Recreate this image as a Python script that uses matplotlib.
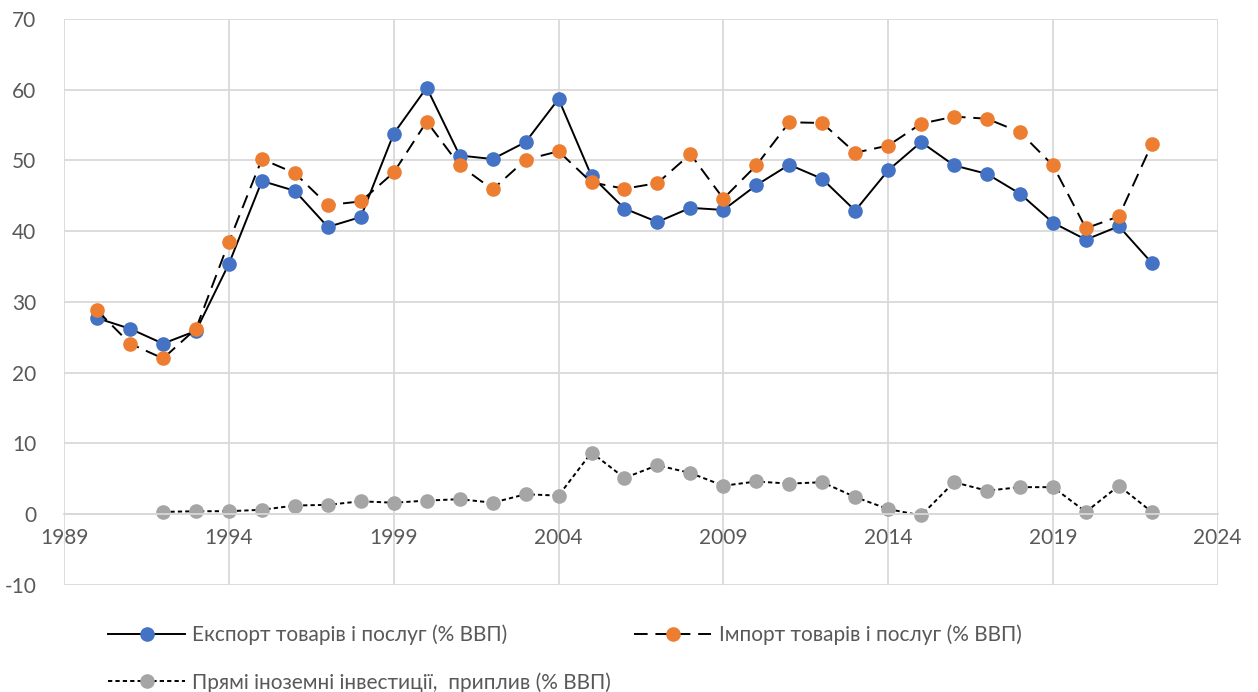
import matplotlib
matplotlib.use('Agg')
import matplotlib.pyplot as plt
from matplotlib.ticker import FixedLocator, MultipleLocator

plt.rcParams['font.family'] = ['Lato', 'DejaVu Sans']
plt.rcParams['axes.unicode_minus'] = False

# Data
years = list(range(1990, 2023))
export = [27.7, 26.2, 24.1, 25.9, 35.4, 47.1, 45.7, 40.6, 42.0, 53.8,
          60.3, 50.7, 50.2, 52.6, 58.7, 47.8, 43.2, 41.3, 43.3, 43.0,
          46.5, 49.4, 47.4, 42.9, 48.6, 52.6, 49.3, 48.1, 45.3, 41.2,
          38.8, 40.7, 35.5]
imports = [28.8, 24.1, 22.0, 26.2, 38.5, 50.2, 48.2, 43.7, 44.2, 48.3,
           55.5, 49.3, 45.9, 50.1, 51.3, 46.9, 46.0, 46.8, 50.9, 44.6,
           49.3, 55.4, 55.3, 51.1, 52.1, 55.2, 56.2, 55.9, 54.0, 49.3,
           40.4, 42.1, 52.3]
fdi_years = list(range(1992, 2023))
fdi = [0.3, 0.4, 0.4, 0.6, 1.2, 1.3, 1.8, 1.6, 1.9, 2.1,
       1.6, 2.8, 2.6, 8.7, 5.1, 6.9, 5.8, 4.0, 4.6, 4.3,
       4.5, 2.4, 0.7, -0.2, 4.5, 3.3, 3.8, 3.8, 0.3, 4.0, 0.3]
x_ticks = [1989, 1994, 1999, 2004, 2009, 2014, 2019, 2024]

labels = ['Експорт товарів і послуг (% ВВП)',
          'Імпорт товарів і послуг (% ВВП)',
          'Прямі іноземні інвестиції,  приплив (% ВВП)']

text_color = '#595959'
grid_color = '#d9d9d9'

fig = plt.figure(figsize=(12.58, 6.92), dpi=100)
ax = fig.add_axes([0.051, 0.155, 0.917, 0.8175])

ms = 9.5
l1, = ax.plot(years, export, color='black', lw=1.4, marker='o', ms=ms,
              markerfacecolor='#4472C4', markeredgecolor='#4472C4', label=labels[0])
l2, = ax.plot(years, imports, color='black', lw=1.4, dashes=(7, 4), marker='o', ms=ms,
              markerfacecolor='#ED7D31', markeredgecolor='#ED7D31', label=labels[1])
l3, = ax.plot(fdi_years, fdi, color='black', lw=1.4, dashes=(2.2, 1.6), marker='o', ms=ms,
              markerfacecolor='#A5A5A5', markeredgecolor='#A5A5A5', label=labels[2])

ax.set_xlim(1989, 2024)
ax.set_ylim(-10, 70)
ax.xaxis.set_major_locator(FixedLocator(x_ticks))
ax.yaxis.set_major_locator(MultipleLocator(10))
ax.grid(True, color=grid_color, lw=1.3)
ax.set_axisbelow(True)

for s in ['top', 'right', 'left']:
    ax.spines[s].set_visible(False)
ax.spines['bottom'].set_position(('data', 0))
ax.spines['bottom'].set_color(grid_color)
ax.spines['bottom'].set_linewidth(1.3)
ax.tick_params(length=0, labelsize=15, colors=text_color, pad=10)
ax.tick_params(axis='y', pad=20)

leg = fig.legend([l1, l3, l2], [labels[0], labels[2], labels[1]], ncol=2,
                 loc='lower left', bbox_to_anchor=(0.071, -0.028), frameon=False,
                 fontsize=15, handlelength=3.7, columnspacing=1.1,
                 labelspacing=1.3, handletextpad=0.35)
for t in leg.get_texts():
    t.set_color(text_color)

fig.savefig('out.png', dpi=100)
